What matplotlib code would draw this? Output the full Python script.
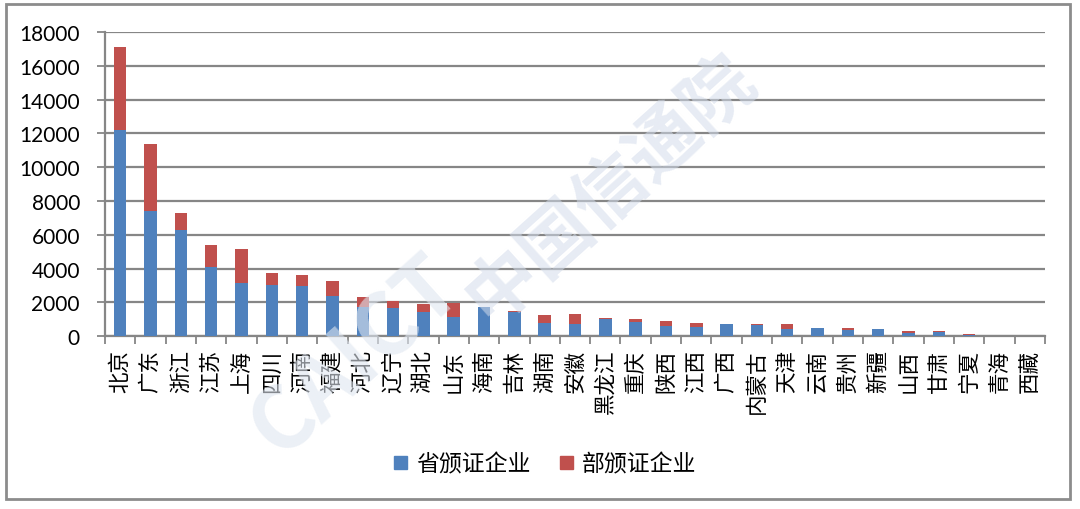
import matplotlib
matplotlib.use("Agg")
import matplotlib.pyplot as plt
from matplotlib.patches import Rectangle
import numpy as np

plt.rcParams['font.family'] = ['Noto Sans CJK SC', 'DejaVu Sans']

# ------------------------------------------------------------------
# Data
# ------------------------------------------------------------------
provinces = ["北京", "广东", "浙江", "江苏", "上海", "四川", "河南", "福建",
             "河北", "辽宁", "湖北", "山东", "海南", "吉林", "湖南", "安徽",
             "黑龙江", "重庆", "陕西", "江西", "广西", "内蒙古", "天津", "云南",
             "贵州", "新疆", "山西", "甘肃", "宁夏", "青海", "西藏"]
province_issued = [12200, 7400, 6300, 4100, 3150, 3000, 2950, 2400,
                   1750, 1650, 1450, 1150, 1700, 1450, 800, 700,
                   1000, 850, 580, 550, 690, 640, 400, 490,
                   350, 420, 200, 220, 60, 20, 10]
ministry_issued = [4900, 4000, 1000, 1300, 2000, 750, 650, 850,
                   550, 400, 450, 800, 50, 60, 450, 600,
                   50, 150, 320, 230, 40, 50, 300, 10,
                   150, 10, 130, 60, 60, 0, 0]
legend_labels = ["省颁证企业", "部颁证企业"]
y_ticks = list(range(0, 18001, 2000))

BLUE = "#4F81BD"
RED = "#C0504D"
GRID = "#868686"

fig = plt.figure(figsize=(10.8, 5.1), dpi=100)
ax = fig.add_axes([0.0972, 0.339, 0.8704, 0.596])

x = np.arange(len(provinces))
ax.bar(x, province_issued, width=0.41, color=BLUE, zorder=3)
ax.bar(x, ministry_issued, width=0.41, bottom=province_issued, color=RED, zorder=3)

ax.set_xlim(-0.5, len(provinces) - 0.5)
ax.set_ylim(0, 18000)
ax.set_yticks(y_ticks)
ax.set_yticklabels([str(v) for v in y_ticks], family='Lato', fontsize=15)
ax.yaxis.grid(True, color=GRID, linewidth=1.6, zorder=0)

# category labels at centres, tick marks at the boundaries (Excel style)
ax.set_xticks(x)
ax.set_xticklabels(provinces, rotation=90, fontsize=15.5, va='top', ha='center')
ax.set_xticks(np.arange(-0.5, len(provinces)), minor=True)
ax.tick_params(axis='x', which='major', length=0, pad=9)
ax.tick_params(axis='x', which='minor', length=6, width=1.3, color=GRID, direction='out')
ax.tick_params(axis='y', length=6, width=1.3, color=GRID, direction='out', pad=12)

for side in ("top", "right"):
    ax.spines[side].set_visible(False)
for side in ("left", "bottom"):
    ax.spines[side].set_color(GRID)
    ax.spines[side].set_linewidth(1.6)

handles = [Rectangle((0, 0), 1, 1, color=BLUE), Rectangle((0, 0), 1, 1, color=RED)]
fig.legend(handles, legend_labels, loc='center', bbox_to_anchor=(0.505, 0.088),
           ncol=2, frameon=False, fontsize=16.5, handlelength=0.55, handleheight=0.55,
           handletextpad=0.4, columnspacing=1.3)

# faint watermark
fig.text(0.33, 0.3, "CAICT", fontsize=62, fontweight='bold', color="#dfe6f0",
         rotation=42, ha='center', va='center', alpha=0.6, zorder=10)
fig.text(0.565, 0.63, "中国信通院", fontsize=52, fontweight='bold', color="#d3dceb",
         rotation=42, ha='center', va='center', alpha=0.55, zorder=10)

# outer frame
fig.patches.append(Rectangle((6 / 1080, 10 / 510), 1064 / 1080, 495 / 510,
                             transform=fig.transFigure, fill=False,
                             edgecolor="#8c8c8c", linewidth=2))

fig.savefig("out.png", dpi=100)
plt.close(fig)
